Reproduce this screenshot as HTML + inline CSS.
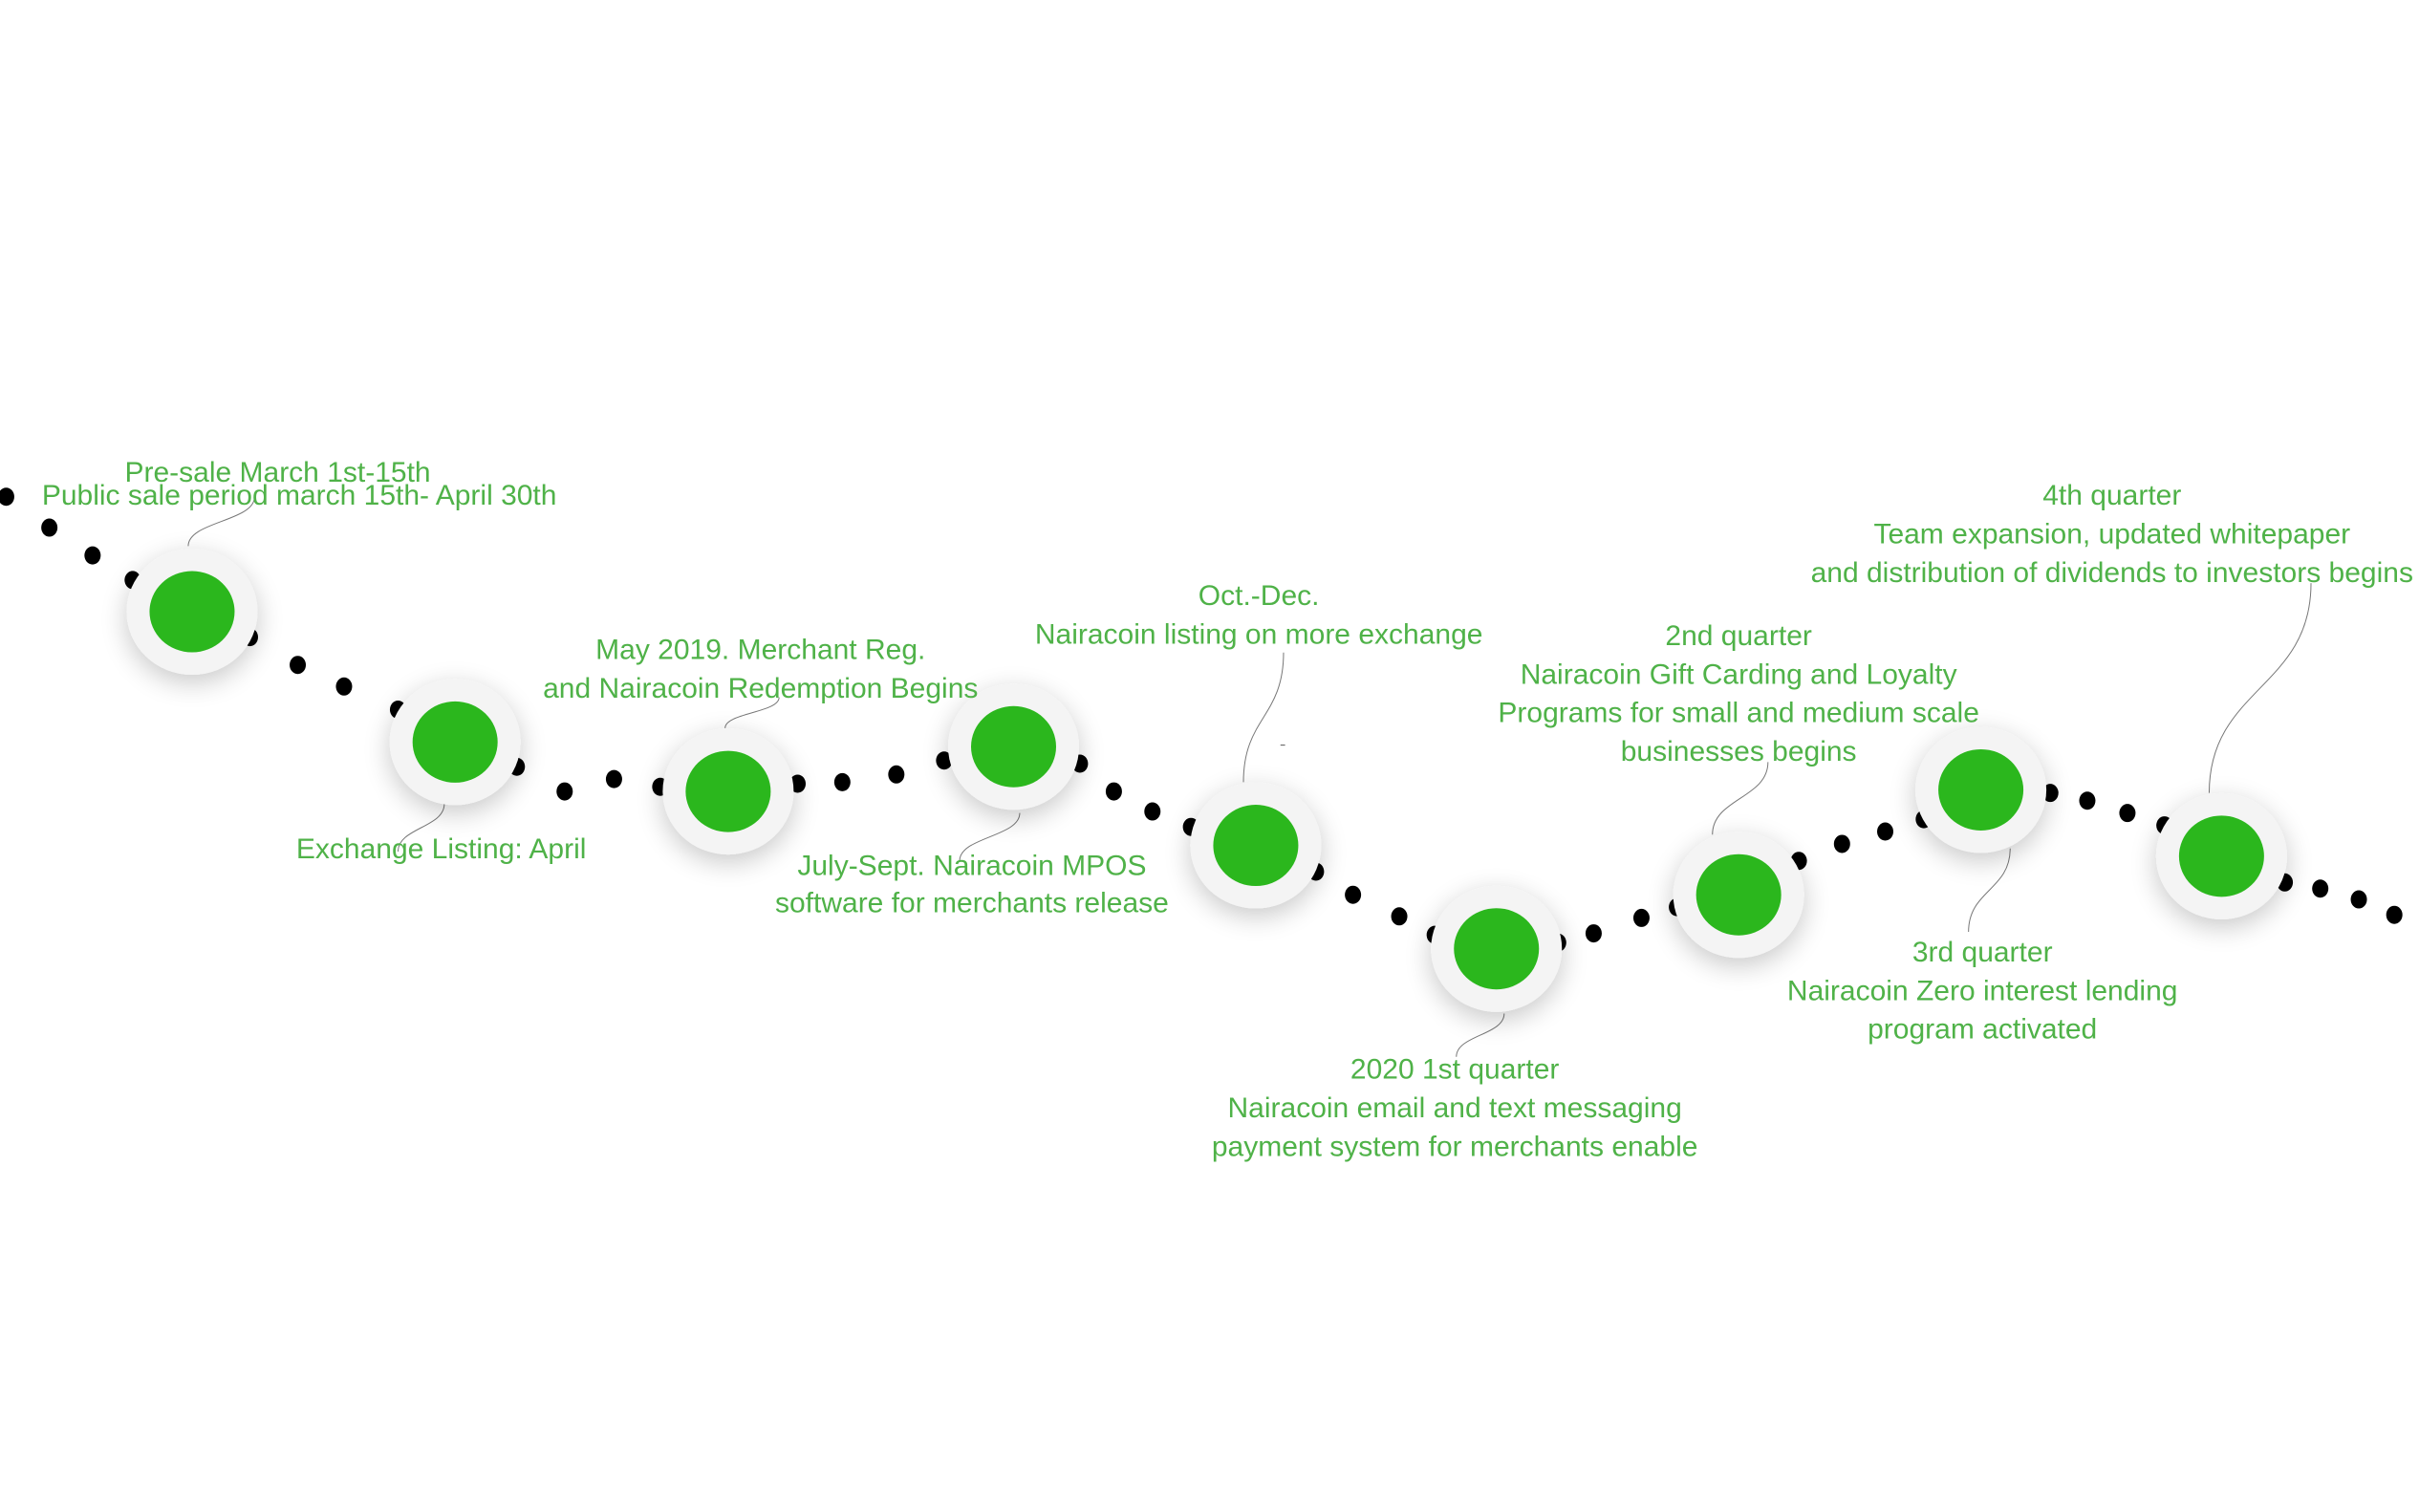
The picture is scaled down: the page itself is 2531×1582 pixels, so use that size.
<!DOCTYPE html>
<html><head><meta charset="utf-8">
<style>
html,body{margin:0;padding:0;background:#fff;}
svg{display:block;}
text{font-family:"Liberation Sans",sans-serif;font-size:30px;fill:#4fb248;}
</style></head>
<body>
<svg id="chart" width="2531" height="1582" viewBox="0 0 2531 1582" xmlns="http://www.w3.org/2000/svg">
<defs>
<filter id="sh" x="-60%" y="-60%" width="220%" height="220%">
<feGaussianBlur in="SourceAlpha" stdDeviation="14"/>
<feOffset dx="0" dy="8"/>
<feComponentTransfer><feFuncA type="linear" slope="0.22"/></feComponentTransfer>
<feMerge><feMergeNode/><feMergeNode in="SourceGraphic"/></feMerge>
</filter>
</defs>
<g id="dots"></g>
<g id="links"></g>
<g id="nodes"></g>
<g id="labels"></g>
</svg>
<script>
const dotX=[4,32,60,86,162,193,223,258,335,366,398,428,517,546,581,612,700,722,747,772,853,877,907,930,1010,1033,1064,1087,1166,1194,1222,1247,1329,1353,1379,1403,1481,1504,1529,1552];
const dotY=[322,342,360,376,413,431,445,460,497,513,505,510,508,507,502,493,495,513,526,536,565,580,594,606,611,605,595,588,558,547,539,531,514,519,527,535,572,576,583,593];
const nodeX=[124.5,295,472,657,814,970,1127,1284,1440];
const nodeY=[396.5,481,513,484,548,615,580,512,555];
const labelLines=[
 ["Pre-sale March 1st-15th","Public sale period march 15th- April 30th"],
 ["Exchange Listing: April"],
 ["May 2019. Merchant Reg.","and Nairacoin Redemption Begins"],
 ["July-Sept. Nairacoin MPOS","software for merchants release"],
 ["Oct.-Dec.","Nairacoin listing on more exchange"],
 ["2020 1st quarter","Nairacoin email and text messaging","payment system for merchants enable"],
 ["2nd quarter","Nairacoin Gift Carding and Loyalty","Programs for small and medium scale","businesses begins"],
 ["3rd quarter","Nairacoin Zero interest lending","program activated"],
 ["4th quarter","Team expansion, updated whitepaper","and distribution of dividends to investors begins"]
];
const labelCX=[194,286,493,630,816,943,1127,1285,1369];
const labelTopY=[306,550,421,561,386,693,412,617,321];
const lineGap=[15,25,25,24,25,25,25,25,25];
const linkFrom=[[122,354],[288,521],[470,472],[661,527],[806,507],[975,657],[1110,541],[1303,550],[1432,514]];
const linkTo=[[165,322],[258,552],[505,452],[622,558],[832,423],[944,685],[1146,494],[1276,604],[1498,378]];
const S=2531/1568;
const sx=v=>v*S, sy=v=>v*S;
const NS="http://www.w3.org/2000/svg";
function mk(t,a,p){const e=document.createElementNS(NS,t);for(const k in a)e.setAttribute(k,a[k]);p.appendChild(e);return e;}
const gd=document.getElementById('dots');
dotX.forEach((x,i)=>{
 const d=mk('ellipse',{cx:sx(x),cy:sy(dotY[i]),rx:8.5,ry:9.5,fill:'#000'},gd);
 
 
});
const gl=document.getElementById('links');
linkFrom.forEach((f,i)=>{
 const t=linkTo[i];
 const x1=sx(f[0]),y1=sy(f[1]),x2=sx(t[0]),y2=sy(t[1]);
 const my=(y1+y2)/2;
 const p=mk('path',{d:`M${x1},${y1} C${x1},${my} ${x2},${my} ${x2},${y2}`,fill:'none',stroke:'#777','stroke-width':1},gl);
 
 
});
const gn=document.getElementById('nodes');
nodeX.forEach((x,i)=>{
 const g=mk('g',{},gn);
 
 
 mk('ellipse',{cx:sx(x),cy:sy(nodeY[i]),rx:68.5,ry:66,fill:'#f4f4f4',filter:'url(#sh)'},g);
 mk('ellipse',{cx:sx(x),cy:sy(nodeY[i]),rx:44.5,ry:42.5,fill:'#2bb71d'},g);
});
const gt=document.getElementById('labels');
labelLines.forEach((lines,i)=>{
 lines.forEach((s,j)=>{
  let cx=labelCX[i];
  if(i===0&&j===0)cx=180;
  const t=mk('text',{x:sx(cx),y:sy(labelTopY[i]+j*lineGap[i])+10,'text-anchor':'middle'},gt);
  t.textContent=s;
  
  
 });
});
const dash=mk('line',{x1:sx(830),y1:sy(483),x2:sx(833),y2:sy(483),stroke:'#555','stroke-width':1},gt);


</script>
</body></html>
